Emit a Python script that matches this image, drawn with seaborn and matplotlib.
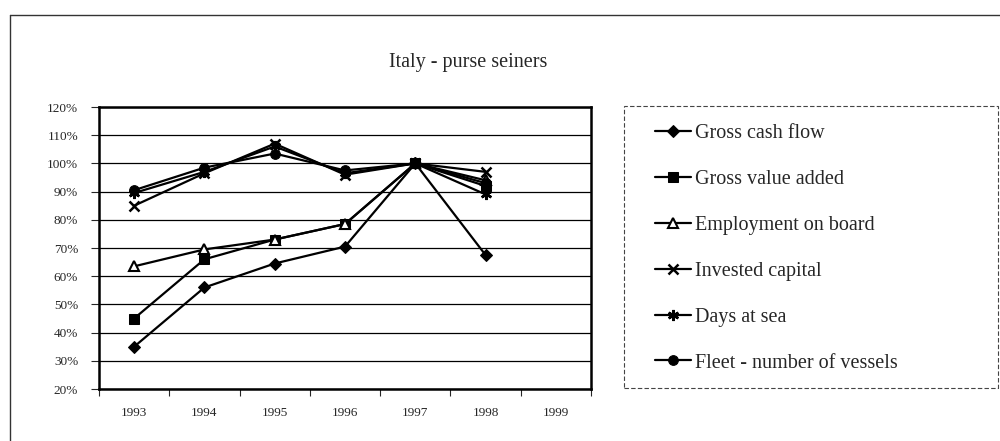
import numpy as np
import pandas as pd
import seaborn as sns
import matplotlib.pyplot as plt
from matplotlib.lines import Line2D
from matplotlib.patches import Rectangle

# 데이터 (그림에서 읽은 값, 1997 = 100%)
years = ['1993', '1994', '1995', '1996', '1997', '1998', '1999']
gross_cash_flow = [35, 56, 64.5, 70.5, 100, 67.5, np.nan]
gross_value_added = [45, 66, 73, 78.5, 100, 92, np.nan]
employment_on_board = [63.5, 69.5, 73, 78.5, 100, 94, np.nan]
invested_capital = [85, 96.5, 107, 96, 100, 97, np.nan]
days_at_sea = [89.5, 97, 106, 96.5, 100, 89, np.nan]
fleet_vessels = [90.5, 98.5, 103.5, 97.5, 100, 93, np.nan]

series_names = ['Gross cash flow', 'Gross value added', 'Employment on board',
                'Invested capital', 'Days at sea', 'Fleet - number of vessels']
series_values = [gross_cash_flow, gross_value_added, employment_on_board,
                 invested_capital, days_at_sea, fleet_vessels]

# 시리즈별 마커 스타일
marker_styles = {
    'Gross cash flow': dict(marker='D', markersize=6, markerfacecolor='black'),
    'Gross value added': dict(marker='s', markersize=7, markerfacecolor='black'),
    'Employment on board': dict(marker='^', markersize=7, markerfacecolor='white', markeredgewidth=1.5),
    'Invested capital': dict(marker='x', markersize=7, markeredgewidth=1.8),
    'Days at sea': dict(marker=(6, 2, 0), markersize=8, markeredgewidth=1.8),
    'Fleet - number of vessels': dict(marker='o', markersize=7, markerfacecolor='black'),
}

sns.set_style('white')
plt.rcParams['font.family'] = ['Liberation Serif', 'DejaVu Serif']

fig = plt.figure(figsize=(10, 4.41), dpi=100)
ax = fig.add_axes([0.099, 1 - 389 / 441, 0.492, (389 - 107) / 441])

positions = np.arange(len(years))
for name, values in zip(series_names, series_values):
    df = pd.DataFrame({'pos': positions, 'value': values}).dropna()
    sns.lineplot(data=df, x='pos', y='value', ax=ax, color='black', linewidth=1.6,
                 markeredgecolor='black', label=name, zorder=3, **marker_styles[name])

ax.set_xlim(-0.5, len(years) - 0.5)
ax.set_ylim(20, 120)
ax.set_yticks(range(20, 121, 10))
ax.set_yticklabels([f'{v}%' for v in range(20, 121, 10)], fontsize=9.5)
ax.set_xticks(positions)
ax.set_xticklabels(years, fontsize=9.5)
ax.set_xticks(np.arange(-0.5, len(years), 1), minor=True)
ax.tick_params(axis='x', which='major', length=0, pad=13)
ax.tick_params(axis='x', which='minor', length=5, width=0.8, direction='out', bottom=True)
ax.tick_params(axis='y', length=6, width=0.8, direction='out', left=True, pad=9)
ax.set_xlabel('')
ax.set_ylabel('')
ax.yaxis.grid(True, color='black', linewidth=0.9)
ax.xaxis.grid(False)
for sp in ax.spines.values():
    sp.set_color('black')
    sp.set_linewidth(1.8)

# 범례 박스 (점선 테두리)
fig.patches.append(Rectangle((624 / 1000, 1 - 388 / 441), 374 / 1000, (388 - 106) / 441,
                             transform=fig.transFigure, fill=False, edgecolor='#444444',
                             linewidth=0.8, linestyle=(0, (4, 2))))
handles, labels = ax.get_legend_handles_labels()
ax.legend_.remove()
fig.legend(handles, labels, loc='upper left', bbox_to_anchor=(655 / 1000, 1 - 124 / 441),
           frameon=False, fontsize=14.5, borderpad=0, borderaxespad=0, handlelength=1.8,
           handletextpad=0.2, labelspacing=1.33)

# 제목과 바깥 테두리
fig.text(0.468, 1 - 62 / 441, 'Italy - purse seiners', ha='center', va='center', fontsize=14.5)
fig.add_artist(Line2D([0.01, 1.0], [1 - 15 / 441, 1 - 15 / 441], transform=fig.transFigure,
                      color='#333333', linewidth=1.0))
fig.add_artist(Line2D([0.01, 0.01], [0, 1 - 15 / 441], transform=fig.transFigure,
                      color='#333333', linewidth=1.0))

fig.savefig('out.png', dpi=100)
